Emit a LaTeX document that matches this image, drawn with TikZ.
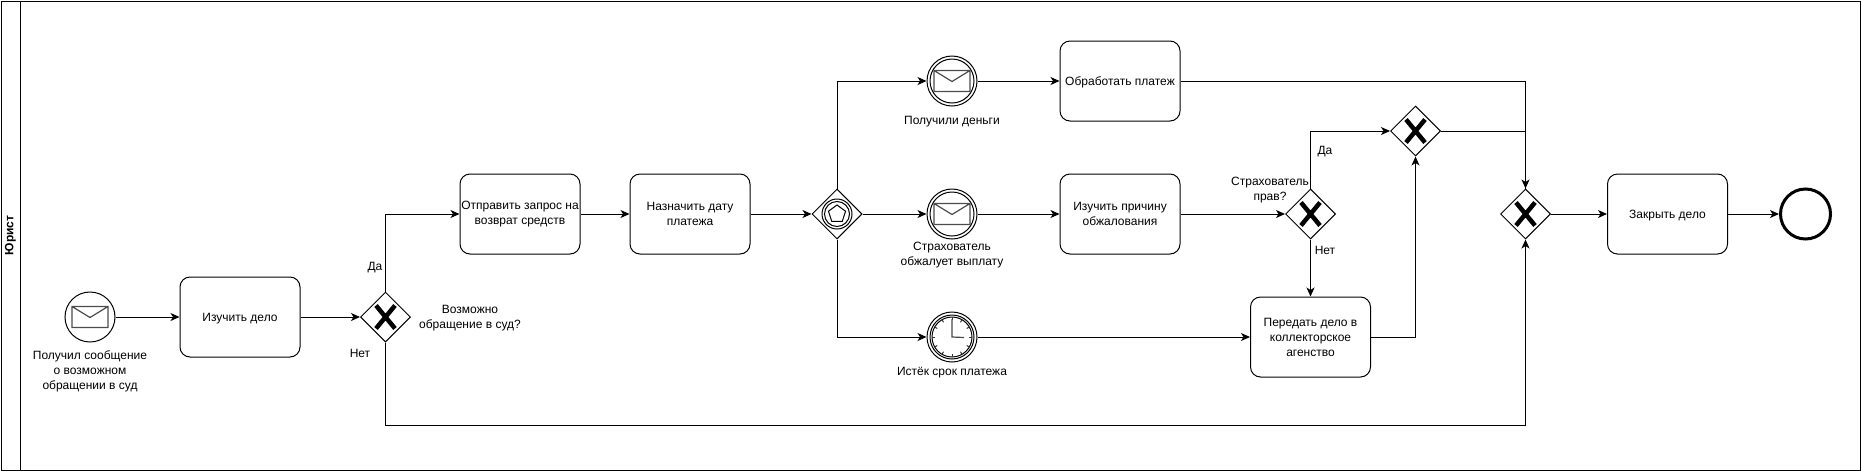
\documentclass[tikz,border=0pt]{standalone}
\usepackage{fontspec}
\setmainfont{Liberation Sans}
\usepackage{xcolor}
\usetikzlibrary{shapes,arrows.meta,positioning}

\newcommand{\drawenvelope}{%
    \draw[black!70, line width=1.2pt, shift={(path picture bounding box.center)}]
        (-18,-10.5) rectangle (18,10.5) (-18,-10.5) -- (0,0.5) -- (18,-10.5);
}

\tikzset{
    task/.style={rectangle, draw, rounded corners=10pt, minimum width=120pt, minimum height=80pt, inner sep=0pt, align=center,
        execute at begin node={\rule{0pt}{11pt}}},
    gateway/.style={diamond, draw, minimum width=50pt, minimum height=50pt, inner sep=0pt, path picture={
        \draw[line width=4.5pt, shift={(path picture bounding box.center)}]
            (-9.5,-11.5) -- (9.5,11.5) (-9.5,11.5) -- (9.5,-11.5);
    }},
    eventgate/.style={diamond, draw, minimum width=50pt, minimum height=50pt, inner sep=0pt, path picture={
        \begin{scope}[shift={(path picture bounding box.center)}]
            \draw (0,0) circle (15) (0,0) circle (12.5);
            \draw (-90:9) -- (-18:9) -- (54:9) -- (126:9) -- (198:9) -- cycle;
        \end{scope}
    }},
    msgstart/.style={circle, draw, minimum size=50pt, inner sep=0pt, path picture={\drawenvelope}},
    msgcatch/.style={circle, draw, minimum size=50pt, inner sep=0pt, path picture={
        \draw[shift={(path picture bounding box.center)}] (0,0) circle (22);
        \drawenvelope
    }},
    timercatch/.style={circle, draw, minimum size=50pt, inner sep=0pt, path picture={
        \begin{scope}[shift={(path picture bounding box.center)}]
            \draw (0,0) circle (22) (0,0) circle (20);
            \foreach \a in {0,30,...,330} \draw[black!80] (\a:17) -- (\a:20);
            \draw[black!70, line width=1.2pt] (0,-18) -- (0,0) -- (12,0.5);
        \end{scope}
    }},
    note/.style={align=center, inner sep=0pt},
    flow/.style={-{Stealth[length=9pt, width=8pt, inset=2.5pt]}}
}

\begin{document}
\begin{tikzpicture}[x=1pt, y=-1pt, line width=1pt,
    font=\fontsize{12}{15}\selectfont]
    \useasboundingbox (0,0) rectangle (1861,472);

    % Lane
    \node[rectangle, draw, minimum width=1859pt, minimum height=469pt] (lane) at (930.5,235.5) {};
    \node[rectangle, draw, rotate=90, minimum width=469pt, minimum height=19pt, inner sep=0pt, font=\fontsize{12}{15}\selectfont\bfseries] (lanehead) at (10.5,235.5) {Юрист};

    % Events
    \node[msgstart] (received) at (90,317) {};
    \node[msgcatch] (money) at (952,81) {};
    \node[msgcatch] (appeal) at (952,214) {};
    \node[timercatch] (timer) at (952,337) {};
    \node[circle, draw, line width=3pt, minimum size=50pt, inner sep=0pt] (finish) at (1805.5,214) {};

    % Tasks
    \node[task] (study) at (240,317) {Изучить дело};
    \node[task] (refund) at (520,214) {Отправить запрос на\\возврат средств};
    \node[task] (paydate) at (690,214) {Назначить дату\\платежа};
    \node[task] (payment) at (1120,81) {Обработать платеж};
    \node[task] (reason) at (1120,214) {Изучить причину\\обжалования};
    \node[task] (agency) at (1310.5,337) {Передать дело в\\коллекторское\\агенство};
    \node[task] (closecase) at (1667.5,214) {Закрыть дело};

    % Gateways
    \node[gateway] (court) at (385.5,317) {};
    \node[eventgate] (waiting) at (837,214) {};
    \node[gateway] (right) at (1310.5,214) {};
    \node[gateway] (joinright) at (1415.5,131) {};
    \node[gateway] (joinall) at (1525.5,214) {};

    % Labels
    \node[note] (receivedtext) at (90,371) {Получил сообщение\\о возможном\\обращении в суд};
    \node[note] (courttext) at (470,318.5) {Возможно\\обращение в суд?};
    \node[note] (moneytext) at (952,122) {Получили деньги};
    \node[note] (appealtext) at (952,255.5) {Страхователь\\обжалует выплату};
    \node[note] (timertext) at (952,373) {Истёк срок платежа};
    \node[note] (righttext) at (1270,190.5) {Страхователь\\прав?};
    \node[note] (courtyes) at (375,268) {Да};
    \node[note] (courtno) at (360,353) {Нет};
    \node[note] (rightyes) at (1325,152) {Да};
    \node[note] (rightno) at (1325,250) {Нет};

    % Flows
    \draw[flow] (received) -- (study);
    \draw[flow] (study) -- (court);
    \draw[flow] (court.north) |- (refund.west);
    \draw[flow] (refund) -- (paydate);
    \draw[flow] (paydate) -- (waiting);
    \draw[flow] (waiting.north) |- (money.west);
    \draw[flow] (waiting) -- (appeal);
    \draw[flow] (waiting.south) |- (timer.west);
    \draw[flow] (money) -- (payment);
    \draw[flow] (appeal) -- (reason);
    \draw[flow] (timer) -- (agency);
    \draw[flow] (reason) -- (right);
    \draw[flow] (right.north) |- (joinright.west);
    \draw[flow] (right) -- (agency);
    \draw[flow] (agency.east) -| (joinright.south);
    \draw (joinright.east) -| (joinall.north);
    \draw[flow] (payment.east) -| (joinall.north);
    \draw[flow] (court.south) -- ++(0,83) -| (joinall.south);
    \draw[flow] (joinall) -- (closecase);
    \draw[flow] (closecase) -- (finish);
\end{tikzpicture}
\end{document}
